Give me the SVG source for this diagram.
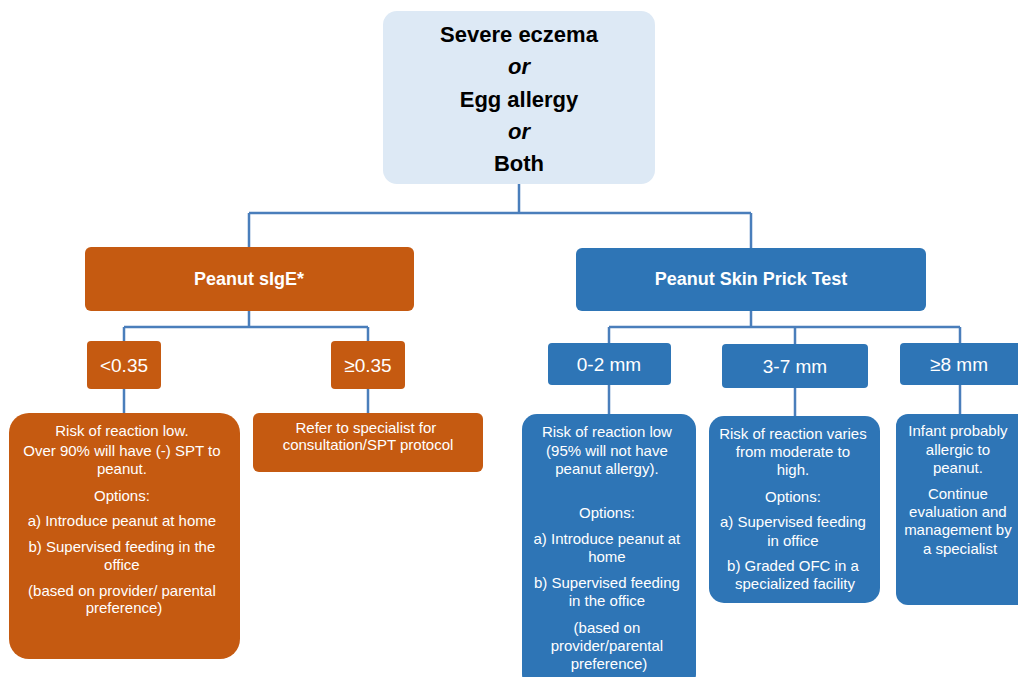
<svg xmlns="http://www.w3.org/2000/svg" width="1018" height="677" viewBox="0 0 1018 677">
<style>
.conn{fill:none;stroke:#4a7ebb;stroke-width:2.5}
.or{fill:#c55a11}
.bl{fill:#2e75b6}
.t{font-family:"Liberation Sans",Arial,sans-serif;fill:#fff;text-anchor:middle}
.b{font-size:15px}
.h{font-size:18px;font-weight:bold}
.m{font-size:19px}
.top{font-family:"Liberation Sans",Arial,sans-serif;font-size:22px;font-weight:bold;fill:#000;text-anchor:middle}
</style>
<rect width="1018" height="677" fill="#fff"/>
<g id="connectors">
<path class="conn" d="M519 184V213M249 213H751M249 213V248M751 213V248"/>
<path class="conn" d="M249 311V327M124 327H368M124 327V341M368 327V341M124 389V413M368 389V413"/>
<path class="conn" d="M751 311V327M609 327H960M609 327V343M795 327V344M960 327V343M609 385V414M795 388V416M960 385V414"/>
</g>
<g id="root">
<rect x="383" y="11" width="272" height="173" rx="14" fill="#dde9f5"/>
<text class="top" x="519" y="42">Severe eczema</text>
<text class="top" x="519" y="74" font-style="italic">or</text>
<text class="top" x="519" y="107">Egg allergy</text>
<text class="top" x="519" y="139" font-style="italic">or</text>
<text class="top" x="519" y="171">Both</text>
</g>
<g id="sige">
<rect class="or" x="85" y="247" width="329" height="64" rx="6"/>
<text class="t h" x="249" y="285">Peanut sIgE*</text>
</g>
<g id="lt035">
<rect class="or" x="87" y="341" width="74" height="48" rx="4"/>
<text class="t m" x="124" y="372">&lt;0.35</text>
</g>
<g id="ge035">
<rect class="or" x="331" y="341" width="74" height="48" rx="4"/>
<text class="t m" x="368" y="372">≥0.35</text>
</g>
<g id="lowrisk-sige">
<rect class="or" x="9" y="413" width="231" height="246" rx="20"/>
<text class="t b">
<tspan x="124" y="436">Risk of reaction low.</tspan>
<tspan x="124" y="456">Over 90% will have (-) SPT to</tspan>
<tspan x="124" y="474">peanut.</tspan>
<tspan x="124" y="501">Options:</tspan>
<tspan x="124" y="526">a) Introduce peanut at home</tspan>
<tspan x="124" y="552">b) Supervised feeding in the</tspan>
<tspan x="124" y="570">office</tspan>
<tspan x="124" y="596">(based on provider/ parental</tspan>
<tspan x="124" y="613">preference)</tspan>
</text>
</g>
<g id="refer">
<rect class="or" x="253" y="413" width="230" height="59" rx="6"/>
<text class="t b">
<tspan x="368" y="433">Refer to specialist for</tspan>
<tspan x="368" y="450">consultation/SPT protocol</tspan>
</text>
</g>
<g id="spt">
<rect class="bl" x="576" y="248" width="350" height="63" rx="6"/>
<text class="t h" x="751" y="285">Peanut Skin Prick Test</text>
</g>
<g id="mm02">
<rect class="bl" x="548" y="343" width="123" height="42" rx="4"/>
<text class="t m" x="609" y="371">0-2 mm</text>
</g>
<g id="mm37">
<rect class="bl" x="722" y="344" width="146" height="44" rx="4"/>
<text class="t m" x="795" y="373">3-7 mm</text>
</g>
<g id="mm8">
<rect class="bl" x="900" y="343" width="130" height="42" rx="4"/>
<text class="t m" x="959" y="371">≥8 mm</text>
</g>
<g id="lowrisk-spt">
<rect class="bl" x="522" y="414" width="174" height="275" rx="15"/>
<text class="t b">
<tspan x="609" y="437">Risk of reaction low</tspan>
<tspan x="609" y="456">(95% will not have</tspan>
<tspan x="609" y="474">peanut allergy).</tspan>
<tspan x="609" y="518">Options:</tspan>
<tspan x="609" y="544">a) Introduce peanut at</tspan>
<tspan x="609" y="562">home</tspan>
<tspan x="609" y="588">b) Supervised feeding</tspan>
<tspan x="609" y="606">in the office</tspan>
<tspan x="609" y="633">(based on</tspan>
<tspan x="609" y="651">provider/parental</tspan>
<tspan x="609" y="669">preference)</tspan>
</text>
</g>
<g id="modrisk">
<rect class="bl" x="709" y="416" width="171" height="187" rx="15"/>
<text class="t b">
<tspan x="795" y="439">Risk of reaction varies</tspan>
<tspan x="795" y="457">from moderate to</tspan>
<tspan x="795" y="475">high.</tspan>
<tspan x="795" y="502">Options:</tspan>
<tspan x="795" y="527">a) Supervised feeding</tspan>
<tspan x="795" y="546">in office</tspan>
<tspan x="795" y="571">b) Graded OFC in a</tspan>
<tspan x="795" y="589">specialized facility</tspan>
</text>
</g>
<g id="allergic">
<rect class="bl" x="896" y="414" width="140" height="191" rx="12"/>
<text class="t b">
<tspan x="960" y="436">Infant probably</tspan>
<tspan x="960" y="455">allergic to</tspan>
<tspan x="960" y="473">peanut.</tspan>
<tspan x="960" y="499">Continue</tspan>
<tspan x="960" y="517">evaluation and</tspan>
<tspan x="960" y="535">management by</tspan>
<tspan x="960" y="554">a specialist</tspan>
</text>
</g>
</svg>
